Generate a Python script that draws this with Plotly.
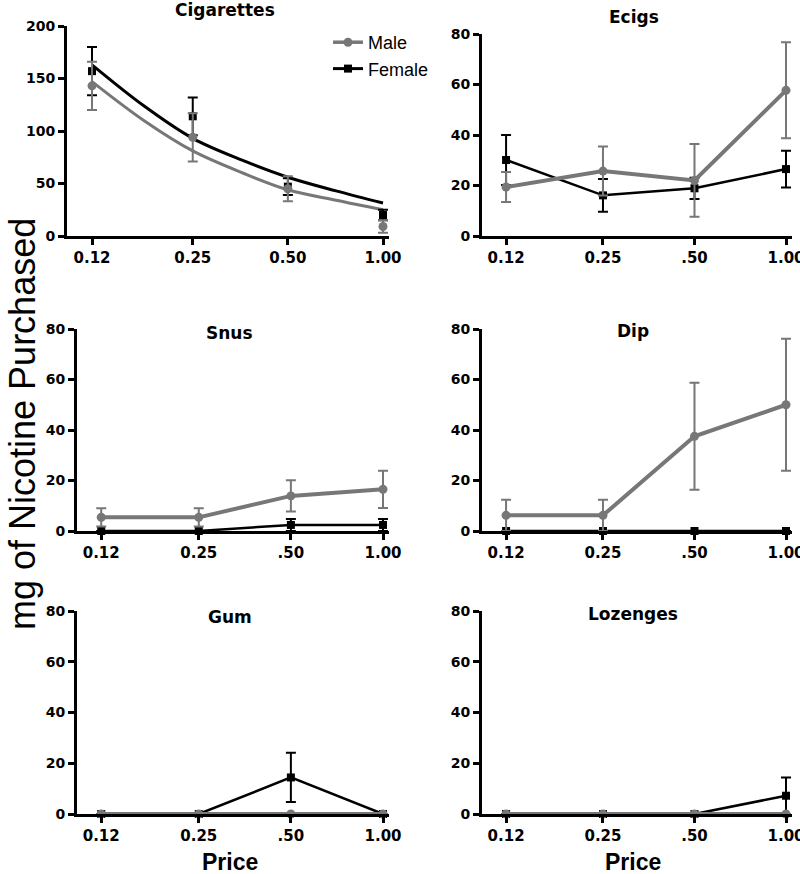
import plotly.graph_objects as go

# ---------------- data ----------------
prices = [0.12, 0.25, 0.5, 1.0]
tick_text_cig = ["0.12", "0.25", "0.50", "1.00"]
tick_text_other = ["0.12", "0.25", ".50", "1.00"]

cig_male = [143, 94, 45, 9]
cig_male_err = [23, 23, 12, 6]
cig_female = [157, 114, 47, 20]
cig_female_err = [23, 18, 8, 5]

curve_prices = [0.12, 0.175, 0.25, 0.36, 0.5, 0.71, 1.0]
cig_female_curve = [163, 124, 93, 72, 56, 43, 31.5]
cig_male_curve = [147, 110, 81, 60, 44, 34, 25]

ecig_male = [19.4, 25.7, 22, 57.7]
ecig_male_err = [5.9, 9.7, 14.4, 19]
ecig_female = [30.1, 16.1, 18.9, 26.5]
ecig_female_err = [9.9, 6.5, 4.2, 7.3]

snus_male = [5.4, 5.4, 13.9, 16.5]
snus_male_err = [3.6, 3.6, 6.2, 7.4]
snus_female = [0, 0, 2.4, 2.4]
snus_female_err = [0, 0, 2.4, 2.4]

dip_male = [6.2, 6.2, 37.5, 50]
dip_male_err = [6.2, 6.2, 21.2, 26.1]
dip_female = [0, 0, 0, 0]
dip_female_err = [0, 0, 0, 0]

gum_male = [0, 0, 0, 0]
gum_male_err = [0, 0, 0, 0]
gum_female = [0, 0, 14.4, 0]
gum_female_err = [0, 0, 9.7, 0]

loz_male = [0, 0, 0, 0]
loz_male_err = [0, 0, 0, 0]
loz_female = [0, 0, 0, 7.2]
loz_female_err = [0, 0, 0, 7.2]

titles = ["Cigarettes", "Ecigs", "Snus", "Dip", "Gum", "Lozenges"]

# ---------------- styling ----------------
W, H = 800, 874
GRAY = "#777777"
BLACK = "#000000"
XPAD = 0.02  # small log-range pad past 1.00 so the error caps are not clipped

# panel boxes in pixels: (left, x-of-1.00, top, bottom)
boxes = [
    (67, 383, 26, 236),
    (482, 786, 34, 236),
    (77, 383, 329, 531),
    (482, 786, 329, 531),
    (77, 383, 611, 814),
    (482, 786, 611, 814),
]
title_pos = [(225, 10), (634, 17), (230, 333), (633, 331), (230, 617), (633, 614)]

fig = go.Figure()

def axname(i, kind):
    return kind if i == 0 else f"{kind}{i+1}"

def add_series(i, y, err, color, symbol, msize, lwidth, mode="lines+markers"):
    fig.add_trace(go.Scatter(
        x=prices, y=y, mode=mode,
        line=dict(color=color, width=lwidth),
        marker=dict(symbol=symbol, size=msize, color=color),
        error_y=dict(type="data", array=err, visible=True, color=color,
                     thickness=2, width=5),
        xaxis=axname(i, "x"), yaxis=axname(i, "y"),
        showlegend=False, cliponaxis=False,
    ))

# Cigarettes: fitted curves + data points
fig.add_trace(go.Scatter(x=curve_prices, y=cig_female_curve, mode="lines",
                         line=dict(color=BLACK, width=3, shape="spline"),
                         xaxis="x", yaxis="y", showlegend=False))
fig.add_trace(go.Scatter(x=curve_prices, y=cig_male_curve, mode="lines",
                         line=dict(color=GRAY, width=3, shape="spline"),
                         xaxis="x", yaxis="y", showlegend=False))
add_series(0, cig_female, cig_female_err, BLACK, "square", 8, 2.5, mode="markers")
add_series(0, cig_male, cig_male_err, GRAY, "circle", 9, 3.5, mode="markers")

panels = [
    (ecig_female, ecig_female_err, ecig_male, ecig_male_err),
    (snus_female, snus_female_err, snus_male, snus_male_err),
    (dip_female, dip_female_err, dip_male, dip_male_err),
    (gum_female, gum_female_err, gum_male, gum_male_err),
    (loz_female, loz_female_err, loz_male, loz_male_err),
]
for k, (fy, fe, my, me) in enumerate(panels):
    i = k + 1
    add_series(i, fy, fe, BLACK, "square", 8, 2.5)
    add_series(i, my, me, GRAY, "circle", 9, 4)

# legend entries
fig.add_trace(go.Scatter(x=[None], y=[None], mode="lines+markers", name="Male",
                         line=dict(color=GRAY, width=3.5),
                         marker=dict(symbol="circle", size=9, color=GRAY),
                         xaxis="x", yaxis="y"))
fig.add_trace(go.Scatter(x=[None], y=[None], mode="lines+markers", name="Female",
                         line=dict(color=BLACK, width=3),
                         marker=dict(symbol="square", size=8, color=BLACK),
                         xaxis="x", yaxis="y"))

tickfont_y = dict(family="DejaVu Sans", size=14, color="black", weight="bold")
tickfont_x = dict(family="DejaVu Sans", size=15, color="black", weight="bold")

layout = dict(
    width=W, height=H,
    margin=dict(l=0, r=0, t=0, b=0, pad=0, autoexpand=False),
    paper_bgcolor="white", plot_bgcolor="white",
    showlegend=True,
    legend=dict(x=328 / W, y=1 - 24 / H, xanchor="left", yanchor="top",
                font=dict(family="Liberation Sans, Arial", size=18, color="black"),
                bgcolor="rgba(0,0,0,0)", itemwidth=30, tracegroupgap=0),
)

annotations = []
for i, (l, r, t, b) in enumerate(boxes):
    xa = "xaxis" if i == 0 else f"xaxis{i+1}"
    ya = "yaxis" if i == 0 else f"yaxis{i+1}"
    r_ext = r + XPAD * (r - l)
    layout[xa] = dict(
        type="log", range=[-1, XPAD], domain=[l / W, min(r_ext / W, 1.0)],
        anchor=axname(i, "y"),
        tickvals=prices, ticktext=tick_text_cig if i == 0 else tick_text_other,
        showgrid=False, zeroline=False, showline=True, linecolor="black", linewidth=3,
        ticks="outside", ticklen=6, tickwidth=2.5, tickcolor="black",
        tickfont=tickfont_x, ticklabeloverflow="allow", fixedrange=True,
    )
    if i == 0:
        yr, dt = [0, 200], 50
    else:
        yr, dt = [0, 80], 20
    layout[ya] = dict(
        range=yr, dtick=dt, tick0=0, domain=[1 - b / H, 1 - t / H],
        anchor=axname(i, "x"),
        showgrid=False, zeroline=False, showline=True, linecolor="black", linewidth=3,
        ticks="outside", ticklen=6, tickwidth=2.5, tickcolor="black",
        tickfont=tickfont_y, ticklabeloverflow="allow", fixedrange=True,
    )
    tx, ty = title_pos[i]
    annotations.append(dict(
        text=titles[i], x=tx / W, y=1 - ty / H, xref="paper", yref="paper",
        showarrow=False, xanchor="center", yanchor="middle",
        font=dict(family="DejaVu Sans", size=17, color="black", weight="bold"),
    ))

annotations.append(dict(
    text="mg of Nicotine Purchased", x=22 / W, y=1 - 424 / H, xref="paper", yref="paper",
    showarrow=False, textangle=-90, xanchor="center", yanchor="middle",
    font=dict(family="Liberation Sans, Arial", size=36, color="black"),
))
for px in (230, 633):
    annotations.append(dict(
        text="Price", x=px / W, y=1 - 862 / H, xref="paper", yref="paper",
        showarrow=False, xanchor="center", yanchor="middle",
        font=dict(family="Liberation Sans, Arial", size=23, color="black", weight="bold"),
    ))

layout["annotations"] = annotations
fig.update_layout(**layout)

# place the figure at the page origin (remove the browser's default body margin)
fig.write_html("out.html",
               config={"displayModeBar": False},
               post_script="document.body.style.margin='0';document.body.style.overflow='hidden';")
